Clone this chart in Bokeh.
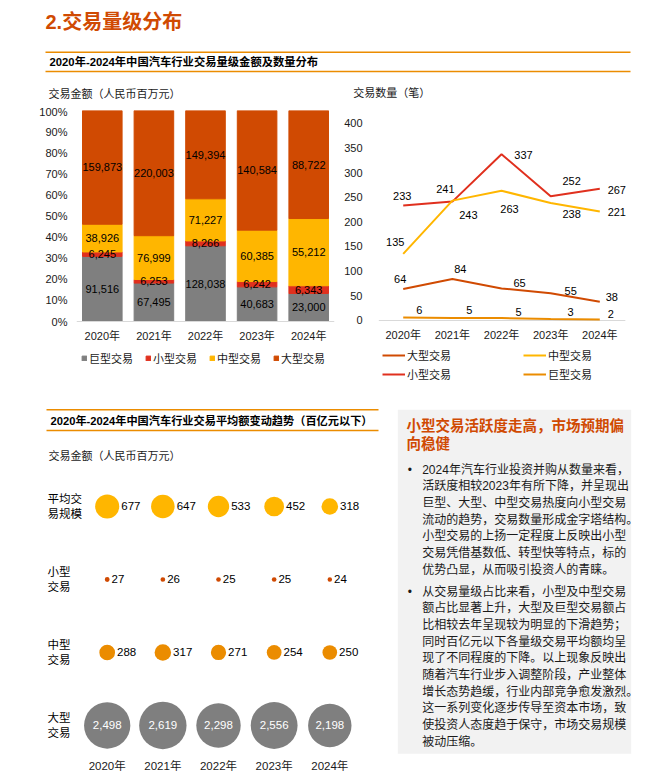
import numpy as np
from bokeh.plotting import figure
from bokeh.layouts import row, column
from bokeh.models import (Range1d, FactorRange, FixedTicker, NumeralTickFormatter,
                          Legend, LegendItem, ColumnDataSource, Span)
from bokeh.core.properties import value
from bokeh.embed import file_html
from bokeh.resources import INLINE

# ---------------- data ----------------
years = ["2020年", "2021年", "2022年", "2023年", "2024年"]
size_names = ["巨型交易", "小型交易", "中型交易", "大型交易"]

# deal amount (RMB mn) by size class
amt_giant = [91516, 67495, 128038, 40683, 23000]
amt_small = [6245, 6253, 8266, 6242, 6343]
amt_mid = [38926, 76999, 71227, 60385, 55212]
amt_large = [159873, 220003, 149394, 140584, 88722]

# deal count by size class
cnt_large = [64, 84, 65, 55, 38]
cnt_mid = [135, 243, 263, 238, 221]
cnt_small = [233, 241, 337, 252, 267]
cnt_giant = [6, 5, 5, 3, 2]

# average deal amount (RMB mn), deals below 10bn
avg_all = [677, 647, 533, 452, 318]
avg_small = [27, 26, 25, 25, 24]
avg_mid = [288, 317, 271, 254, 250]
avg_large = [2498, 2619, 2298, 2556, 2198]
avg_row_labels = ["平均交\n易规模", "小型\n交易", "中型\n交易", "大型\n交易"]

pct_ticks = [0, 0.1, 0.2, 0.3, 0.4, 0.5, 0.6, 0.7, 0.8, 0.9, 1.0]
cnt_ticks = [0, 50, 100, 150, 200, 250, 300, 350, 400]

page_title = "2.交易量级分布"
sec1_title = "2020年-2024年中国汽车行业交易量级金额及数量分布"
sec2_title = "2020年-2024年中国汽车行业交易平均额变动趋势（百亿元以下）"
amt_label = "交易金额（人民币百万元）"
cnt_label = "交易数量（笔）"
box_heading = ["小型交易活跃度走高，市场预期偏", "向稳健"]
box_para1 = ["2024年汽车行业投资并购从数量来看，",
             "活跃度相较2023年有所下降，并呈现出",
             "巨型、大型、中型交易热度向小型交易",
             "流动的趋势，交易数量形成金字塔结构。",
             "小型交易的上扬一定程度上反映出小型",
             "交易凭借基数低、转型快等特点，标的",
             "优势凸显，从而吸引投资人的青睐。"]
box_para2 = ["从交易量级占比来看，小型及中型交易",
             "额占比显著上升，大型及巨型交易额占",
             "比相较去年呈现较为明显的下滑趋势；",
             "同时百亿元以下各量级交易平均额均呈",
             "现了不同程度的下降。以上现象反映出",
             "随着汽车行业步入调整阶段，产业整体",
             "增长态势趋缓，行业内部竞争愈发激烈。",
             "这一系列变化逐步传导至资本市场，致",
             "使投资人态度趋于保守，市场交易规模",
             "被动压缩。"]

# ---------------- styles ----------------
FONT = "'Liberation Sans', 'Noto Sans CJK SC'"
ORANGE = "#D04A02"
TANGERINE = "#EB8C00"
YELLOW = "#FFB600"
RED = "#E0301E"
GRAY = "#7F7F7F"
TXT = "#1A1A1A"
RULE = "#EB8C00"


def base_fig(w, h, xr, yr, axes=True, **kw):
    extra = {} if axes else dict(x_axis_type=None, y_axis_type=None)
    p = figure(width=w, height=h, x_range=xr, y_range=yr, output_backend="svg",
               toolbar_location=None, min_border=0, **extra, **kw)
    p.outline_line_color = None
    for g in p.grid:
        g.visible = False
    return p


def txt(p, x, y, t, size="11px", color=TXT, bold=False, align="left", **kw):
    p.text(x=x, y=y, text=t, text_font=value(FONT), text_font_size=size,
           text_color=color, text_font_style="bold" if bold else "normal",
           text_align=align, text_baseline="middle", **kw)


def style_axis(ax, size="11px", standoff=5, line=None):
    ax.axis_line_color = line
    ax.major_tick_line_color = None
    ax.minor_tick_line_color = None
    ax.major_label_standoff = standoff
    ax.major_label_text_font = FONT
    ax.major_label_text_font_size = size
    ax.major_label_text_color = TXT


# ---------------- top band ----------------
top = base_fig(671, 105, Range1d(0, 671), Range1d(105, 0), axes=False)
txt(top, [45], [21.7], [page_title], size="20px", color=ORANGE, bold=True)
top.segment(x0=[45, 45], y0=[51.7, 71], x1=[630, 630], y1=[51.7, 71],
            line_color=RULE, line_width=1.5)
txt(top, [49], [61.5], [sec1_title], size="11.3px", color="#000000", bold=True)
txt(top, [48, 352.7], [93.3, 92.7], [amt_label, cnt_label], size="11px")

# ---------------- stacked 100% bar chart ----------------
amt = np.array([amt_giant, amt_small, amt_mid, amt_large], dtype=float)
frac = amt / amt.sum(axis=0)
src = ColumnDataSource(dict(year=years, g=frac[0], s=frac[1], m=frac[2], l=frac[3]))

barf = base_fig(335, 300, FactorRange(*years), Range1d(-0.3744, 1), x_axis_location=None,
                min_border_left=76, min_border_right=1, min_border_top=5, min_border_bottom=5)
bars = barf.vbar_stack(["g", "s", "m", "l"], x="year", width=0.767,
                       color=[GRAY, RED, YELLOW, ORANGE], source=src)
barf.add_layout(Span(location=0, dimension="width", line_color="#D9D9D9", line_width=1))
cum = np.cumsum(frac, axis=0)
lx, ly, lt = [], [], []
for k in range(4):
    for i in range(5):
        lx.append(years[i])
        ly.append(cum[k, i] - frac[k, i] / 2)
        lt.append(f"{int(amt[k, i]):,}")
txt(barf, lx, ly, lt, size="11px", color="#000000", align="center")
# category labels under the baseline
txt(barf, years, [0] * 5, years, size="11px", color=TXT, align="center", y_offset=14)

barf.yaxis.ticker = FixedTicker(ticks=pct_ticks)
barf.yaxis.formatter = NumeralTickFormatter(format="0%")
style_axis(barf.yaxis[0], standoff=3)

bleg = Legend(items=[LegendItem(label=size_names[k], renderers=[bars[k]]) for k in range(4)],
              location=(5, 34), orientation="horizontal", glyph_width=6, glyph_height=6,
              label_standoff=2, spacing=12, padding=0, margin=0, label_height=12, label_width=10,
              border_line_color=None, background_fill_alpha=0,
              label_text_font=FONT, label_text_font_size="11px", label_text_color=TXT)
barf.add_layout(bleg)

# ---------------- line chart ----------------
xi = [0, 1, 2, 3, 4]
linef = base_fig(336, 300, Range1d(-0.503, 4.706), Range1d(-162.2, 425.7),
                 x_axis_location=None,
                 min_border_left=43, min_border_right=37, min_border_top=5, min_border_bottom=5)
linef.segment(x0=[-0.5], y0=[0], x1=[4.52], y1=[0], line_color="#D9D9D9", line_width=1)
r_giant = linef.line(xi, cnt_giant, line_color=TANGERINE, line_width=2)
r_large = linef.line(xi, cnt_large, line_color=ORANGE, line_width=2)
r_small = linef.line(xi, cnt_small, line_color=RED, line_width=2)
r_mid = linef.line(xi, cnt_mid, line_color=YELLOW, line_width=2)

# label offsets in screen px (dx, dy; dy positive = down)
off_small = [(-1, -10), (-7, -13), (22, 1), (21, -15), (17, 1)]
off_mid = [(-8, -12), (16, 14), (8, 18), (21, 11), (17, 1)]
off_large = [(-3, -10), (8, -10), (18, -5), (20, -2), (12, -5)]
off_giant = [(16, -8), (17, -8), (17, -6), (20, -7), (11, -6)]
for vals, offs in ((cnt_small, off_small), (cnt_mid, off_mid),
                   (cnt_large, off_large), (cnt_giant, off_giant)):
    txt(linef, xi, vals, [str(v) for v in vals], size="11px", color="#000000", align="center",
        x_offset=[o[0] for o in offs], y_offset=[o[1] for o in offs])

# category labels under the zero line
txt(linef, xi, [0] * 5, years, size="11px", color=TXT, align="center", y_offset=15)

linef.yaxis.ticker = FixedTicker(ticks=cnt_ticks)
style_axis(linef.yaxis[0], standoff=10)

leg_kw = dict(orientation="horizontal", glyph_width=23, glyph_height=12, label_standoff=2,
              spacing=72, padding=0, margin=0, label_height=12, label_width=10,
              border_line_color=None, background_fill_alpha=0,
              label_text_font=FONT, label_text_font_size="11px", label_text_color=TXT)
leg1 = Legend(items=[LegendItem(label="大型交易", renderers=[r_large]),
                     LegendItem(label="中型交易", renderers=[r_mid])], location=(4, 37), **leg_kw)
leg2 = Legend(items=[LegendItem(label="小型交易", renderers=[r_small]),
                     LegendItem(label="巨型交易", renderers=[r_giant])], location=(4, 18), **leg_kw)
linef.add_layout(leg1)
linef.add_layout(leg2)

# ---------------- lower-left header ----------------
hdr2 = base_fig(388, 65, Range1d(0, 388), Range1d(65, 0), axes=False)
hdr2.segment(x0=[46, 46], y0=[4.3, 25], x1=[378, 378], y1=[4.3, 25], line_color=RULE, line_width=1.5)
txt(hdr2, [50], [15], [sec2_title], size="11.2px", color="#000000", bold=True)
txt(hdr2, [48], [50], [amt_label], size="11px")

# ---------------- bubble chart ----------------
bubf = base_fig(388, 310, Range1d(-1.9173, 5.0548), Range1d(3.370, -0.493),
                min_border_bottom=28)
max_avg = max(avg_large)
D_MAX = 47.4  # px diameter of largest bubble
rows_spec = [(avg_all, YELLOW), (avg_small, ORANGE), (avg_mid, TANGERINE), (avg_large, GRAY)]
for r, (vals, col) in enumerate(rows_spec):
    d = [D_MAX * np.sqrt(v / max_avg) for v in vals]
    bubf.scatter(xi, [r] * 5, size=d, fill_color=col, line_color=None)
    labs = [f"{v:,}" for v in vals]
    if r < 3:
        txt(bubf, xi, [r] * 5, labs, size="11.5px", color="#000000",
            x_offset=[dd / 2 + 2 for dd in d])
    else:
        txt(bubf, xi, [r] * 5, labs, size="11.5px", color="#FFFFFF", align="center")
    txt(bubf, [-1.0728], [r], [avg_row_labels[r]], size="11.5px", color="#000000",
        text_line_height=1.25)

bubf.xaxis.ticker = FixedTicker(ticks=xi)
bubf.xaxis.major_label_overrides = {i: years[i] for i in xi}
style_axis(bubf.xaxis[0], size="11.5px", standoff=1)
bubf.yaxis.visible = False

# ---------------- text box ----------------
textf = base_fig(283, 375, Range1d(0, 283), Range1d(375, 0), axes=False)
textf.quad(left=[9.3], right=[242.7], top=[4.3], bottom=[348.3], fill_color="#F2F2F2", line_color=None)
txt(textf, [18, 18], [20, 38.3], box_heading, size="14.5px", color=ORANGE, bold=True)
LH = 16.67
txt(textf, [19.3, 19.3], [64.3, 186], ["•", "•"], size="12px", color=TXT)
txt(textf, [33.7] * len(box_para1), [64.3 + LH * i for i in range(len(box_para1))], box_para1,
    size="12px", color=TXT)
txt(textf, [33.7] * len(box_para2), [186 + LH * i for i in range(len(box_para2))], box_para2,
    size="12px", color=TXT)

layout = column([top,
                 row([barf, linef], spacing=0),
                 row([column([hdr2, bubf], spacing=0), textf], spacing=0)],
                spacing=0)

open("out.html", "w").write(file_html(layout, INLINE))
